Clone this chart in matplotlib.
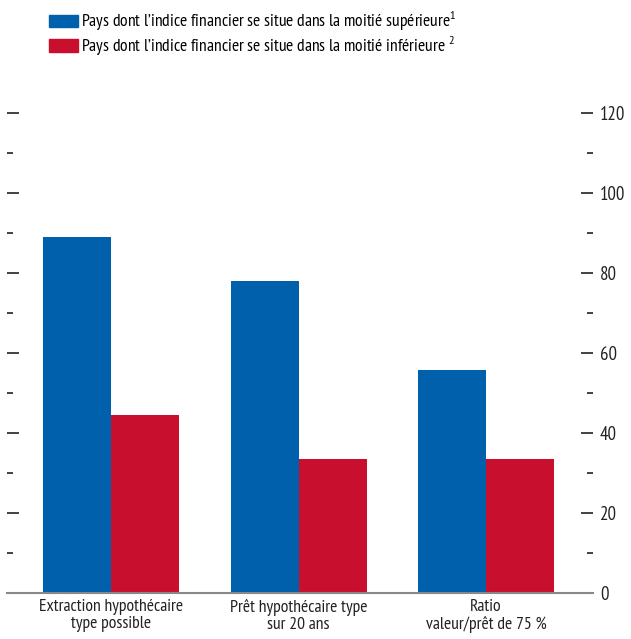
import matplotlib
matplotlib.use('Agg')
import matplotlib.pyplot as plt
from matplotlib.patches import Patch
from matplotlib.ticker import MultipleLocator
import numpy as np

plt.rcParams['font.family'] = ['PT Sans Narrow', 'DejaVu Sans']
plt.rcParams['mathtext.fontset'] = 'custom'
plt.rcParams['mathtext.rm'] = 'PT Sans Narrow'

categories = ['Extraction hypothécaire\ntype possible',
              'Prêt hypothécaire type\nsur 20 ans',
              'Ratio\nvaleur/prêt de 75 %']
upper_half = [89, 78, 55.7]
lower_half = [44.5, 33.5, 33.5]
labels = ['Pays dont l\u2019indice financier se situe dans la moitié supérieure$^{\\rm 1}$',
          'Pays dont l\u2019indice financier se situe dans la moitié inférieure $^{\\rm 2}$']

blue = '#0060ac'
red = '#c8102e'

fig = plt.figure(figsize=(6.31, 6.39), dpi=100)
ax = fig.add_axes([7/631, 46/639, 586/631, 480/639])

x = np.arange(len(categories))
w = 0.363
ax.bar(x - w/2, upper_half, w, color=blue)
ax.bar(x + w/2, lower_half, w, color=red)

ax.set_xlim(-0.555, 2.57)
ax.set_ylim(0, 120)
for s in ['top', 'left', 'right']:
    ax.spines[s].set_visible(False)
ax.spines['bottom'].set_color('#888888')
ax.spines['bottom'].set_linewidth(1.5)

ax.set_xticks(x)
ax.set_xticklabels(categories, fontsize=12.7, color='#222222', linespacing=1.12)
ax.tick_params(axis='x', length=0, pad=4)

ax.yaxis.set_major_locator(MultipleLocator(20))
ax.yaxis.set_minor_locator(MultipleLocator(10))
ax.tick_params(axis='y', which='both', direction='in', left=True, right=True,
               labelleft=False, labelright=True, color='#222222', width=1.2)
ax.tick_params(axis='y', which='major', length=8.5, labelsize=13.5, pad=5, labelcolor='#222222')
ax.tick_params(axis='y', which='minor', length=4.5)

handles = [Patch(color=blue), Patch(color=red)]
fig.legend(handles, labels, loc='upper left', bbox_to_anchor=(49/631, 1 - 10/639),
           frameon=False, fontsize=12.6, handlelength=1.65, handleheight=0.7,
           handletextpad=0.2, labelspacing=0.05, borderaxespad=0, borderpad=0)

fig.savefig('out.png', dpi=100)
